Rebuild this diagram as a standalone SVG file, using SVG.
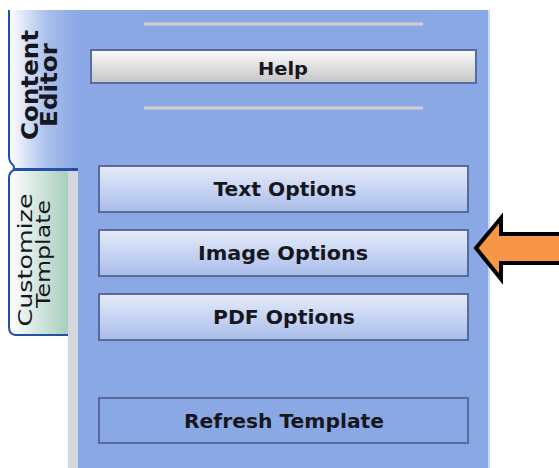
<svg xmlns="http://www.w3.org/2000/svg" width="559" height="468" viewBox="0 0 559 468">
  <defs>
    <linearGradient id="gTabContent" x1="0" y1="0" x2="1" y2="0">
      <stop offset="0" stop-color="#ffffff"/>
      <stop offset="0.55" stop-color="#a9bfeb"/>
      <stop offset="1" stop-color="#8aa8e3"/>
    </linearGradient>
    <linearGradient id="gTabCustom" x1="0" y1="0" x2="1" y2="0">
      <stop offset="0" stop-color="#ffffff"/>
      <stop offset="0.45" stop-color="#d6e8e0"/>
      <stop offset="1" stop-color="#a7cfbd"/>
    </linearGradient>
    <linearGradient id="gBtn" x1="0" y1="0" x2="0" y2="1">
      <stop offset="0" stop-color="#e6ecfa"/>
      <stop offset="1" stop-color="#a9bdea"/>
    </linearGradient>
    <linearGradient id="gHelp" x1="0" y1="0" x2="0" y2="1">
      <stop offset="0" stop-color="#fbfbfb"/>
      <stop offset="1" stop-color="#c4c4c4"/>
    </linearGradient>
  </defs>
  <style>
    .btn { fill: url(#gBtn); stroke: #5b6a9c; stroke-width: 2; }
    .btn-flat { fill: #8aa8e3; stroke: #5b6a9c; stroke-width: 2; }
    .lbl { font-family: "DejaVu Sans", Verdana, sans-serif; font-weight: bold; font-size: 20px; fill: #16161e; text-anchor: middle; }
    .lbl-help { font-size: 18px; }
    .tab-border { fill: none; stroke: #2451a6; stroke-width: 2; }
    .sep { stroke: #cfd0d4; stroke-width: 3; }
    .tabtxt { font-family: "DejaVu Sans", Verdana, sans-serif; fill: #16161e; text-anchor: middle; }
    .tab-bold { font-size: 23px; font-weight: bold; }
    .tab-plain { font-size: 20px; }
  </style>

  <rect width="559" height="468" fill="#ffffff"/>

  <!-- main panel -->
  <g id="panel">
    <rect x="68" y="10" width="422" height="458" fill="#8aa8e3"/>
    <rect x="68" y="170" width="10" height="298" fill="#d7d8dd"/>
    <rect x="488" y="10" width="2" height="458" fill="#c9d6f4"/>
    <line class="sep" x1="144" y1="24" x2="423" y2="24"/>
    <line class="sep" x1="144" y1="108" x2="423" y2="108"/>
  </g>

  <!-- Content Editor tab (active) -->
  <g id="tab-content-editor">
    <rect x="9" y="10" width="69" height="159" fill="url(#gTabContent)"/>
    <path class="tab-border" d="M9,10 V156 Q9,162 13,165 Q15,168 13,169 H78"/>
    <text class="tabtxt tab-bold" transform="translate(38,85) rotate(-90)" textLength="110" lengthAdjust="spacingAndGlyphs">Content</text>
    <text class="tabtxt tab-bold" transform="translate(57,85) rotate(-90)" textLength="84" lengthAdjust="spacingAndGlyphs">Editor</text>
  </g>

  <!-- Customize Template tab -->
  <g id="tab-customize-template">
    <path d="M68,170 H14 Q9,172 9,178 V327 Q9,334 15,335 H68 Z" fill="url(#gTabCustom)"/>
    <path class="tab-border" d="M78,170 H14 Q9,172 9,178 V327 Q9,334 15,335 H68"/>
    <text class="tabtxt tab-plain" transform="translate(32,260) rotate(-90)" textLength="133" lengthAdjust="spacingAndGlyphs">Customize</text>
    <text class="tabtxt tab-plain" transform="translate(50,254) rotate(-90)" textLength="108" lengthAdjust="spacingAndGlyphs">Template</text>
  </g>

  <g id="btn-help">
    <rect x="91" y="50" width="385" height="33" fill="url(#gHelp)" stroke="#5b6a9c" stroke-width="2"/>
    <text class="lbl lbl-help" x="283" y="75" textLength="50" lengthAdjust="spacingAndGlyphs">Help</text>
  </g>

  <g id="btn-text-options">
    <rect class="btn" x="99" y="166" width="369" height="46"/>
    <text class="lbl" x="285" y="196" textLength="143" lengthAdjust="spacingAndGlyphs">Text Options</text>
  </g>

  <g id="btn-image-options">
    <rect class="btn" x="99" y="230" width="369" height="46"/>
    <text class="lbl" x="283" y="260" textLength="170" lengthAdjust="spacingAndGlyphs">Image Options</text>
  </g>

  <g id="btn-pdf-options">
    <rect class="btn" x="99" y="294" width="369" height="46"/>
    <text class="lbl" x="284" y="324" textLength="142" lengthAdjust="spacingAndGlyphs">PDF Options</text>
  </g>

  <g id="btn-refresh-template">
    <rect class="btn-flat" x="99" y="398" width="369" height="45"/>
    <text class="lbl" x="284" y="428" textLength="200" lengthAdjust="spacingAndGlyphs">Refresh Template</text>
  </g>

  <!-- pointer arrow -->
  <g id="connectors">
    <path d="M562,234 H501 V218 L476,248 L501,279 V263 H562 Z" fill="#f79646" stroke="#000000" stroke-width="4" stroke-linejoin="miter"/>
  </g>
</svg>
